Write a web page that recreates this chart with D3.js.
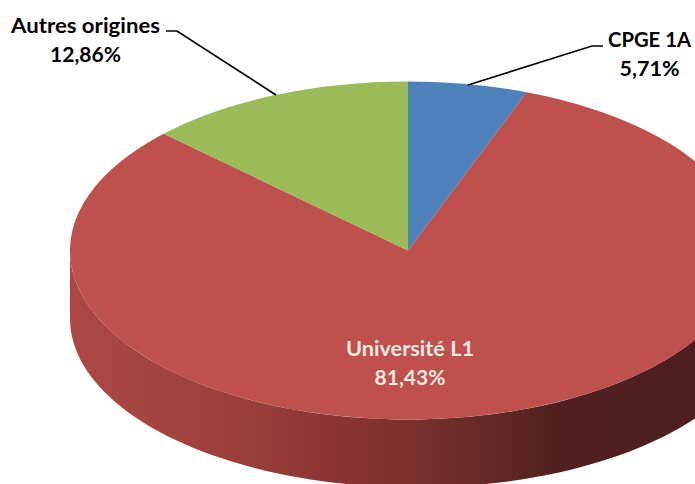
<!DOCTYPE html>
<html>
<head>
<meta charset="utf-8">
<script src="https://cdn.jsdelivr.net/npm/d3@7"></script>
<style>
	html, body { margin: 0; padding: 0; background: #fff; overflow: hidden; }
	text { font-family: Lato, "Open Sans", sans-serif; font-weight: 700; }
</style>
</head>
<body>
<div id="chart"></div>
<script>
const CATEGORIES = ["CPGE 1A", "Université L1", "Autres origines"];
const VALUES = [5.71, 81.43, 12.86];
const VALUE_LABELS = ["5,71%", "81,43%", "12,86%"];
const COLORS = ["#4F81BD", "#BE504D", "#9BBB59"];

var width = 695;
var height = 484;
var cx = 408;
var cy = 250.5;
var rx = 338;
var squash = 0.5;
var depth = 68;
// the lower rim sits slightly wider and to the right (perspective of the 3D pie)
var rimCx = 416;
var rimRx = 346;

var svg = d3.select("#chart").append("svg")
	.attr("width", width)
	.attr("height", height)
	.style("display", "block");

// Side wall shading, light on the left and almost black on the right
var wallStops = [
	[0, "#AB4845"],
	[0.2, "#A0413D"],
	[0.4, "#8A3533"],
	[0.5, "#7A302F"],
	[0.6, "#682A29"],
	[0.72, "#521F1F"],
	[1, "#4C1E1D"],
];
var grad = svg.append("defs").append("linearGradient")
	.attr("id", "wall")
	.attr("gradientUnits", "userSpaceOnUse")
	.attr("x1", cx - rx)
	.attr("x2", cx + rx)
	.attr("y1", 0)
	.attr("y2", 0);
wallStops.forEach(function(s) {
	grad.append("stop").attr("offset", s[0]).attr("stop-color", s[1]);
});

var pie = d3.pie().sort(null).value(function(d) { return d; });
var arcs = pie(VALUES);
var arc = d3.arc().innerRadius(0).outerRadius(rx);

// Wall: the lower rim, then back along the edge of the top disc
var wallLine = d3.line();
var front = d3.range(90, 271, 2).map(function(a) { return a * Math.PI / 180; });
var rimPts = front.map(function(a) {
	return [rimCx + rimRx * Math.sin(a), cy + depth - rx * squash * Math.cos(a)];
});
var edgePts = front.slice().reverse().map(function(a) {
	return [cx + rx * Math.sin(a), cy - rx * squash * Math.cos(a)];
});
svg.append("path")
	.attr("d", wallLine(rimPts.concat(edgePts)) + "Z")
	.attr("fill", "url(#wall)");

// Top of the pie
var top3d = svg.append("g")
	.attr("transform", "translate(" + cx + "," + cy + ") scale(1," + squash + ")");
top3d.selectAll("path")
	.data(arcs)
	.enter().append("path")
	.attr("d", arc)
	.attr("fill", function(d, i) { return COLORS[i]; });

// Leader lines
var leaders = [
	[[166, 31], [177, 31], [276, 95]],
	[[603, 46], [592, 46], [468, 85]],
];
svg.selectAll(".leader")
	.data(leaders)
	.enter().append("path")
	.attr("class", "leader")
	.attr("d", d3.line())
	.attr("fill", "none")
	.attr("stroke", "#000")
	.attr("stroke-width", 1.7);

// Labels, textLength holds each line to the width measured on the picture
var labelPos = [
	{ x: 649.5, y: 47, fill: "#000", w: [83, 60] },
	{ x: 410, y: 356, fill: "#EEE8DF", w: [128, 71] },
	{ x: 85.5, y: 33, fill: "#000", w: [149, 71] },
];
labelPos.forEach(function(p, i) {
	var t = svg.append("text")
		.attr("text-anchor", "middle")
		.attr("font-size", 21)
		.attr("fill", p.fill);
	t.append("tspan").attr("x", p.x).attr("y", p.y)
		.attr("textLength", p.w[0]).attr("lengthAdjust", "spacingAndGlyphs")
		.text(CATEGORIES[i]);
	t.append("tspan").attr("x", p.x).attr("y", p.y + 29)
		.attr("textLength", p.w[1]).attr("lengthAdjust", "spacingAndGlyphs")
		.text(VALUE_LABELS[i]);
});
</script>
</body>
</html>
